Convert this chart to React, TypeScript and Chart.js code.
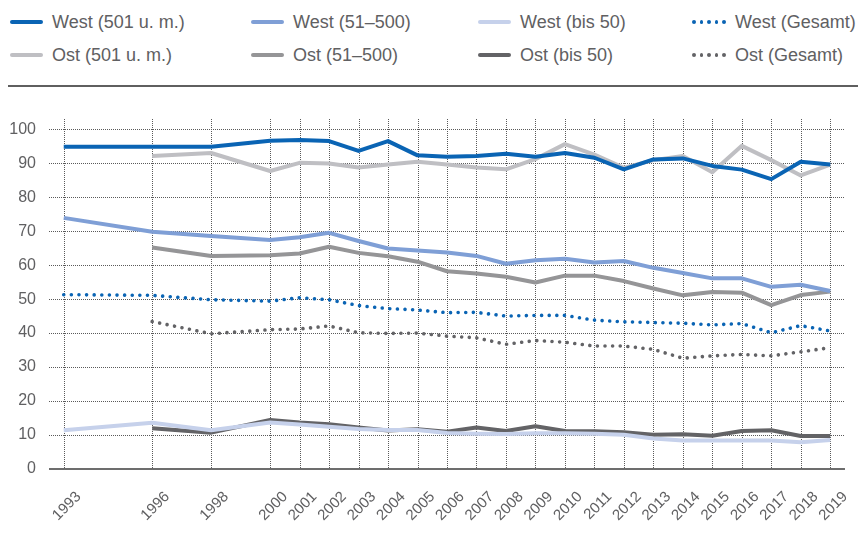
import React, { useEffect, useRef } from "react";
import { Chart, registerables } from "chart.js";

Chart.register(...registerables);

const years = [1993, 1996, 1998, 2000, 2001, 2002, 2003, 2004, 2005, 2006, 2007, 2008, 2009, 2010, 2011, 2012, 2013, 2014, 2015, 2016, 2017, 2018, 2019];

const westLarge = [94.8, 94.8, 94.8, 96.6, 96.8, 96.5, 93.6, 96.5, 92.3, 91.9, 92.1, 92.8, 91.9, 93.0, 91.6, 88.2, 91.1, 91.4, 89.2, 88.1, 85.3, 90.4, 89.6];
const westMid = [73.9, 69.8, 68.6, 67.4, 68.2, 69.5, 67.1, 64.9, 64.3, 63.7, 62.7, 60.4, 61.4, 61.9, 60.8, 61.2, 59.2, 57.7, 56.1, 56.1, 53.6, 54.2, 52.4];
const westSmall = [11.4, 13.6, 11.4, 13.7, 13.1, 12.4, 11.8, 11.5, 11.5, 10.6, 10.4, 10.3, 10.5, 10.5, 10.4, 10.1, 9.0, 8.4, 8.4, 8.4, 8.4, 7.9, 8.5];
const westTotal = [51.3, 51.1, 49.8, 49.4, 50.4, 49.8, 48.1, 47.2, 46.8, 46.0, 46.1, 45.0, 45.2, 45.2, 43.8, 43.3, 43.1, 42.9, 42.4, 42.8, 40.1, 42.2, 40.6];
const ostLarge = [null, 92.1, 93.0, 87.7, 90.1, 89.9, 88.7, 89.6, 90.4, 89.6, 88.7, 88.2, 91.2, 95.6, 92.5, 88.6, 90.9, 92.1, 87.3, 95.1, 90.9, 86.4, 89.6];
const ostMid = [null, 65.2, 62.7, 62.9, 63.4, 65.4, 63.6, 62.6, 61.0, 58.2, 57.5, 56.6, 54.9, 56.9, 56.9, 55.3, 53.1, 51.1, 52.1, 51.9, 48.2, 51.2, 52.2];
const ostSmall = [null, 12.0, 10.7, 14.4, 13.7, 13.2, 12.2, 11.3, 11.7, 11.0, 12.2, 11.2, 12.6, 11.2, 11.1, 10.8, 10.1, 10.2, 9.8, 11.2, 11.4, 9.7, 9.7];
const ostTotal = [null, 43.4, 39.8, 41.0, 41.2, 42.1, 40.1, 39.9, 40.0, 39.1, 38.6, 36.7, 37.8, 37.3, 36.2, 36.2, 35.2, 32.6, 33.3, 33.7, 33.3, 34.5, 35.7];

const yTicks = [0, 10, 20, 30, 40, 50, 60, 70, 80, 90, 100];

const C_WL = "#0a64b4";
const C_WM = "#7f9fd6";
const C_WS = "#c6d1eb";
const C_OL = "#bfbfc3";
const C_OM = "#959597";
const C_OS = "#636366";

const FONT = "'Liberation Sans', Arial, sans-serif";
const TEXT = "#606062";

const series = [
  { label: "West (501 u. m.)", data: westLarge, color: C_WL, dotted: false },
  { label: "West (51–500)", data: westMid, color: C_WM, dotted: false },
  { label: "West (bis 50)", data: westSmall, color: C_WS, dotted: false },
  { label: "West (Gesamt)", data: westTotal, color: C_WL, dotted: true },
  { label: "Ost (501 u. m.)", data: ostLarge, color: C_OL, dotted: false },
  { label: "Ost (51–500)", data: ostMid, color: C_OM, dotted: false },
  { label: "Ost (bis 50)", data: ostSmall, color: C_OS, dotted: false },
  { label: "Ost (Gesamt)", data: ostTotal, color: C_OS, dotted: true },
];

const gridPlugin = {
  id: "customGrid",
  beforeDatasetsDraw(chart: any) {
    const { ctx, chartArea, scales } = chart;
    const xs = scales.x;
    const ys = scales.y;
    ctx.save();
    ctx.strokeStyle = "#5a5a5a";
    ctx.lineWidth = 1;
    ctx.setLineDash([1, 1]);
    for (const v of yTicks) {
      if (v === 0) continue;
      const y = Math.round(ys.getPixelForValue(v)) + 0.5;
      ctx.beginPath();
      ctx.moveTo(chartArea.left, y);
      ctx.lineTo(chartArea.right, y);
      ctx.stroke();
    }
    for (const yr of years) {
      const x = Math.round(xs.getPixelForValue(yr)) + 0.5;
      ctx.beginPath();
      ctx.moveTo(x, chartArea.top);
      ctx.lineTo(x, chartArea.bottom);
      ctx.stroke();
    }
    ctx.setLineDash([]);
    ctx.strokeStyle = "#3c3c3c";
    ctx.lineWidth = 1.6;
    const y0 = ys.getPixelForValue(0);
    ctx.beginPath();
    ctx.moveTo(chartArea.left, y0);
    ctx.lineTo(chartArea.right, y0);
    ctx.stroke();
    ctx.restore();
  },
};

function LegendItem({ left, top, label, color, dotted }: any) {
  return (
    <div style={{ position: "absolute", left, top, height: 22, display: "flex", alignItems: "center" }}>
      {dotted ? (
        <div style={{ width: 34, display: "flex", justifyContent: "space-between" }}>
          {[0, 1, 2, 3, 4].map((i) => (
            <div key={i} style={{ width: 3.6, height: 3.6, borderRadius: 2, background: color }} />
          ))}
        </div>
      ) : (
        <div style={{ width: 33, height: 4, borderRadius: 2, background: color }} />
      )}
      <span style={{ marginLeft: 9, fontFamily: FONT, fontSize: 18, color: TEXT, whiteSpace: "nowrap" }}>{label}</span>
    </div>
  );
}

export default function App() {
  const ref = useRef<HTMLCanvasElement>(null);

  useEffect(() => {
    if (!ref.current) return;
    const datasets = series.map((s) => ({
      label: s.label,
      data: years.map((yr, i) => ({ x: yr, y: s.data[i] })).filter((p) => p.y !== null),
      borderColor: s.color,
      backgroundColor: s.color,
      borderWidth: s.dotted ? 3.6 : 4,
      borderDash: s.dotted ? [0.01, 7.6] : [],
      borderCapStyle: s.dotted ? "round" : "butt",
      borderJoinStyle: "round",
      pointRadius: 0,
      tension: 0,
      fill: false,
    }));
    const chart = new Chart(ref.current, {
      type: "line",
      data: { datasets } as any,
      options: {
        animation: false,
        responsive: false,
        devicePixelRatio: 1,
        layout: { padding: { top: 119, left: 0, right: 2, bottom: 0 } },
        plugins: { legend: { display: false }, tooltip: { enabled: false } },
        scales: {
          x: {
            type: "linear",
            min: 1992.5,
            max: 2019.5,
            afterBuildTicks: (scale: any) => {
              scale.ticks = years.map((v) => ({ value: v }));
            },
            afterFit: (scale: any) => {
              scale.height = 64;
            },
            grid: { display: false, drawTicks: false },
            border: { display: false },
            ticks: {
              autoSkip: false,
              maxRotation: 45,
              minRotation: 45,
              padding: 19,
              labelOffset: 15,
              color: TEXT,
              font: { family: FONT, size: 15 },
              callback: (v: any) => String(v),
            },
          },
          y: {
            min: 0,
            max: 103,
            afterBuildTicks: (scale: any) => {
              scale.ticks = yTicks.map((v) => ({ value: v }));
            },
            afterFit: (scale: any) => {
              scale.width = 49;
            },
            grid: { display: false, drawTicks: false },
            border: { display: false },
            ticks: {
              padding: 13,
              color: TEXT,
              font: { family: FONT, size: 16 },
              callback: (v: any) => String(v),
            },
          },
        },
      } as any,
      plugins: [gridPlugin],
    });
    return () => chart.destroy();
  }, []);

  const cols = [10, 251, 478, 692];
  return (
    <div style={{ position: "absolute", left: 0, top: 0, width: 862, height: 533, background: "#fff" }}>
      {series.map((s, i) => (
        <LegendItem
          key={s.label}
          left={cols[i % 4]}
          top={i < 4 ? 11 : 44}
          label={s.label}
          color={s.color}
          dotted={s.dotted}
        />
      ))}
      <div style={{ position: "absolute", left: 8, top: 85, width: 850, height: 1.5, background: "#5f5f5f" }} />
      <canvas ref={ref} width={862} height={533} style={{ position: "absolute", left: 0, top: 0 }} />
    </div>
  );
}
